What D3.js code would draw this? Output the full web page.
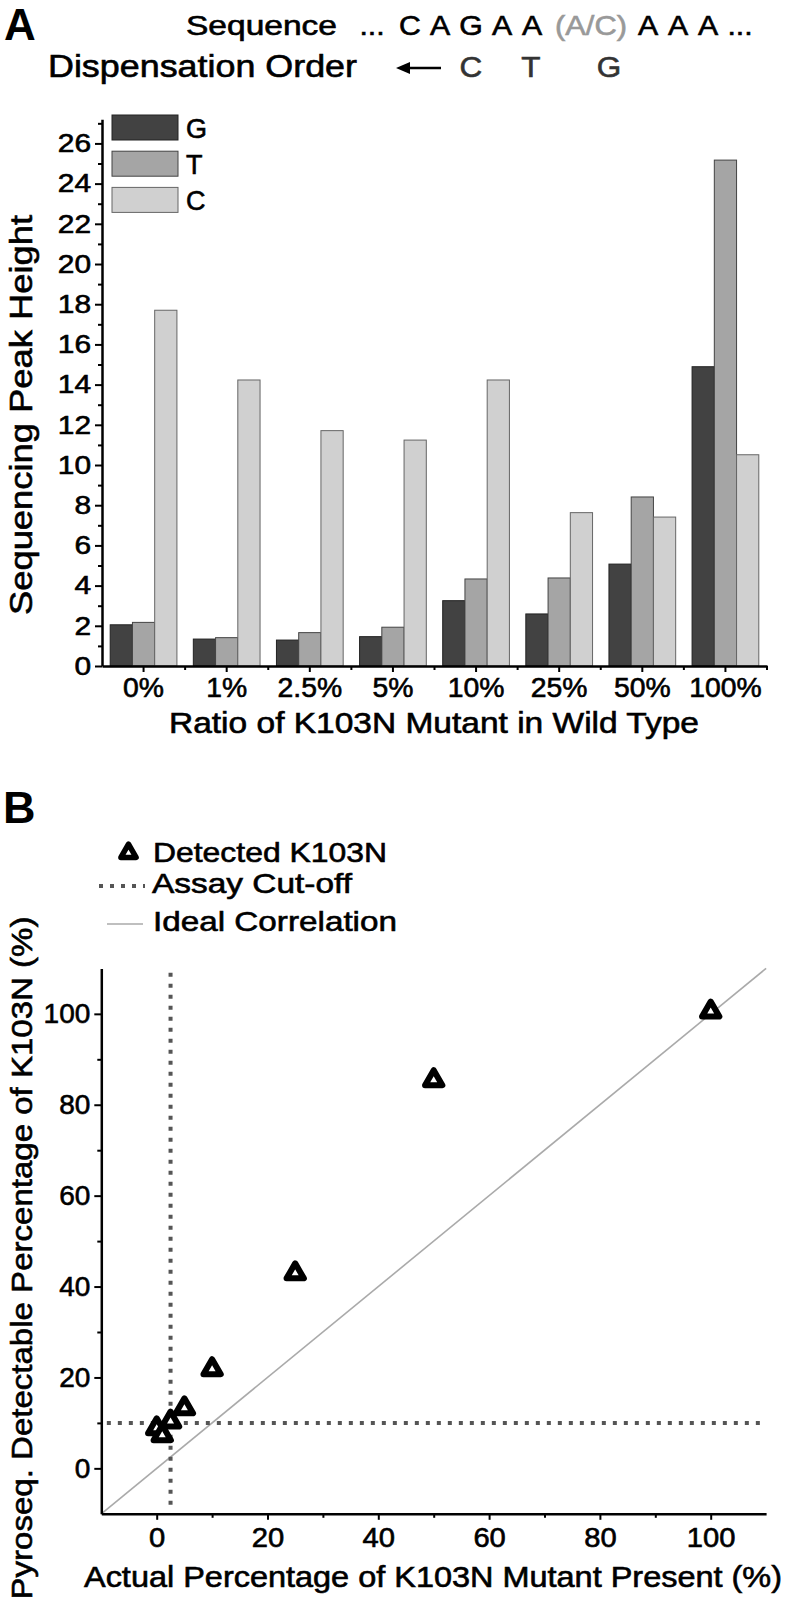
<!DOCTYPE html>
<html><head><meta charset="utf-8">
<script src="https://cdn.jsdelivr.net/npm/d3@7"></script>
<style>
body{margin:0;background:#fff}
svg{display:block}
text{font-family:"Liberation Sans",Arial,sans-serif;stroke-width:0.6px;stroke:currentColor}
</style>
</head><body>
<svg id="c" width="788" height="1609"></svg>
<script>
// ---------- Panel A data ----------
const categories = ["0%","1%","2.5%","5%","10%","25%","50%","100%"];
const seriesNames = ["G","T","C"];
const gValues = [2.05,1.34,1.29,1.46,3.25,2.59,5.07,14.89];
const tValues = [2.17,1.41,1.66,1.93,4.33,4.38,8.41,25.17];
const cValues = [17.70,14.23,11.71,11.24,14.23,7.63,7.41,10.51];
const yTicksA = [0,2,4,6,8,10,12,14,16,18,20,22,24,26];
const yMinorA = [1,3,5,7,9,11,13,15,17,19,21,23,25,27];

// ---------- Header text ----------
const seqLeft  = ["...","C","A","G","A","A"];
const seqMid   = "(A/C)";
const seqRight = ["A","A","A","..."];
const dispLetters = ["C","T","G"];

// ---------- Panel B data ----------
const actualPct   = [0,1,2.5,5,10,25,50,100];
const detectedPct = [8.8,7.3,10.3,13.2,21.8,42.9,85.4,100.5];
const ticksB = [0,20,40,60,80,100];
const minorB = [10,30,50,70,90];
const cutoffX = 2.5;
const cutoffY = 10;
const idealLine = [-10,110];

const svg = d3.select("#c");
function fit(sel,len){ sel.attr("textLength",len).attr("lengthAdjust","spacingAndGlyphs"); return sel; }
function stretch(sel,k){ sel.each(function(){ const L=this.getComputedTextLength(); this.setAttribute("textLength",L*k); this.setAttribute("lengthAdjust","spacingAndGlyphs"); }); }
function col(sel,c){ return sel.attr("fill",c).style("color",c); }

// ---------- Header ----------
svg.append("text").attr("x",4).attr("y",40).attr("font-size",44).attr("font-weight","bold").style("stroke-width","0px").text("A");
fit(svg.append("text").attr("x",186).attr("y",35).attr("font-size",27).text("Sequence"),151);
const seqLX = [372,410,440,471,502,532];
seqLeft.forEach((s,i)=>stretch(svg.append("text").attr("x",seqLX[i]).attr("y",35).attr("font-size",27).attr("text-anchor","middle").text(s),1.12));
fit(col(svg.append("text").attr("x",555).attr("y",35).attr("font-size",27),"#999").text(seqMid),72);
const seqRX = [648,678,708,740];
seqRight.forEach((s,i)=>stretch(svg.append("text").attr("x",seqRX[i]).attr("y",35).attr("font-size",27).attr("text-anchor","middle").text(s),1.12));
fit(svg.append("text").attr("x",48).attr("y",77).attr("font-size",31).text("Dispensation Order"),309);
svg.append("line").attr("x1",441).attr("x2",404).attr("y1",68).attr("y2",68).attr("stroke","#000").attr("stroke-width",2.5);
svg.append("path").attr("d","M396,68 L410,62 L410,74 Z").attr("fill","#000");
const dispX = [471,531,609];
dispLetters.forEach((l,i)=>{
  stretch(col(svg.append("text").attr("x",dispX[i]).attr("y",77).attr("font-size",30).attr("text-anchor","middle"),"#333").text(l),1.05);
});

// ---------- Panel A ----------
const xA = d3.scaleBand().domain(categories).range([102,767]);
const xSub = d3.scaleBand().domain(seriesNames).range([8.2, xA.bandwidth()-8.2]);
const yA = d3.scaleLinear().domain([0,27.2]).range([666,119.3]);
const colorA = d3.scaleOrdinal().domain(seriesNames).range(["#424242","#a5a5a5","#d0d0d0"]);
const strokeA = d3.scaleOrdinal().domain(seriesNames).range(["#222","#444","#666"]);
const seriesValues = {G:gValues,T:tValues,C:cValues};
const barData = [];
categories.forEach((c,i)=>seriesNames.forEach(s=>barData.push({c,s,v:seriesValues[s][i]})));
svg.append("g").selectAll("rect").data(barData).join("rect")
  .attr("x",d=>xA(d.c)+xSub(d.s)).attr("width",xSub.bandwidth())
  .attr("y",d=>yA(d.v)).attr("height",d=>yA(0)-yA(d.v))
  .attr("fill",d=>colorA(d.s)).attr("stroke",d=>strokeA(d.s)).attr("stroke-width",1);

// y axis A
const gyA = svg.append("g").attr("transform","translate(102,0)")
  .call(d3.axisLeft(yA).tickValues(yTicksA).tickSize(7).tickSizeOuter(0).tickPadding(4));
gyA.select(".domain").attr("stroke-width",2.5);
gyA.selectAll(".tick line").attr("stroke-width",2);
gyA.selectAll(".tick text").attr("font-size",26).attr("fill","#000");
stretch(gyA.selectAll(".tick text"),1.15);
const gyAm = svg.append("g").attr("transform","translate(102,0)")
  .call(d3.axisLeft(yA).tickValues(yMinorA).tickSize(4).tickFormat(""));
gyAm.select(".domain").remove();
gyAm.selectAll(".tick line").attr("stroke-width",2);

// x axis A
const gxA = svg.append("g").attr("transform",`translate(0,${yA(0)})`)
  .call(d3.axisBottom(xA).tickSize(6).tickSizeOuter(0).tickPadding(6));
gxA.select(".domain").attr("stroke-width",2.5);
gxA.selectAll(".tick line").attr("stroke-width",2);
gxA.selectAll(".tick text").attr("font-size",27).attr("fill","#000");
stretch(gxA.selectAll(".tick text"),1.05);
svg.append("g").selectAll("line").data(categories).join("line")
  .attr("x1",d=>xA(d)+xA.bandwidth()).attr("x2",d=>xA(d)+xA.bandwidth())
  .attr("y1",yA(0)).attr("y2",yA(0)+4).attr("stroke","#000").attr("stroke-width",2);

// titles A
fit(svg.append("text").attr("transform","translate(32,415) rotate(-90)").attr("text-anchor","middle")
  .attr("font-size",31).text("Sequencing Peak Height"),400);
fit(svg.append("text").attr("x",434).attr("y",733).attr("text-anchor","middle")
  .attr("font-size",29).text("Ratio of K103N Mutant in Wild Type"),530);

// legend A
const legA = svg.append("g").selectAll("g").data(seriesNames).join("g")
  .attr("transform",(d,i)=>`translate(112,${115+i*36.2})`);
legA.append("rect").attr("width",66).attr("height",25).attr("fill",d=>colorA(d)).attr("stroke",d=>strokeA(d)).attr("stroke-width",1);
legA.append("text").attr("x",74).attr("y",23).attr("font-size",27).text(d=>d);

// ---------- Panel B ----------
svg.append("text").attr("x",3).attr("y",823).attr("font-size",45).attr("font-weight","bold").style("stroke-width","0px").text("B");
const xB = d3.scaleLinear().domain([-10,110]).range([101.3,766.1]);
const yB = d3.scaleLinear().domain([-10,110]).range([1513.8,968.4]);

// ideal line
svg.append("line").attr("x1",xB(idealLine[0])).attr("y1",yB(idealLine[0]))
  .attr("x2",xB(idealLine[1])).attr("y2",yB(idealLine[1]))
  .attr("stroke","#aaa").attr("stroke-width",1.6);
// cutoffs
svg.append("line").attr("x1",xB(cutoffX)).attr("x2",xB(cutoffX)).attr("y1",yB(-8)).attr("y2",yB(109.5))
  .attr("stroke","#555").attr("stroke-width",4).attr("stroke-dasharray","4,7");
svg.append("line").attr("x1",xB(-9)).attr("x2",xB(110)).attr("y1",yB(cutoffY)).attr("y2",yB(cutoffY))
  .attr("stroke","#555").attr("stroke-width",4).attr("stroke-dasharray","4,7");

// axes B
const gyB = svg.append("g").attr("transform",`translate(${xB(-10)},0)`)
  .call(d3.axisLeft(yB).tickValues(ticksB).tickSize(7).tickSizeOuter(0).tickPadding(4));
gyB.select(".domain").attr("stroke-width",2.5);
gyB.selectAll(".tick line").attr("stroke-width",2);
gyB.selectAll(".tick text").attr("font-size",28).attr("fill","#000");
const gyBm = svg.append("g").attr("transform",`translate(${xB(-10)},0)`)
  .call(d3.axisLeft(yB).tickValues(minorB).tickSize(4).tickFormat(""));
gyBm.select(".domain").remove(); gyBm.selectAll(".tick line").attr("stroke-width",2);

const gxB = svg.append("g").attr("transform",`translate(0,${yB(-10)})`)
  .call(d3.axisBottom(xB).tickValues(ticksB).tickSize(6).tickSizeOuter(0).tickPadding(8));
gxB.select(".domain").attr("stroke-width",2.5);
gxB.selectAll(".tick line").attr("stroke-width",2);
gxB.selectAll(".tick text").attr("font-size",27).attr("fill","#000");
stretch(gxB.selectAll(".tick text"),1.08);
const gxBm = svg.append("g").attr("transform",`translate(0,${yB(-10)})`)
  .call(d3.axisBottom(xB).tickValues(minorB).tickSize(4).tickFormat(""));
gxBm.select(".domain").remove(); gxBm.selectAll(".tick line").attr("stroke-width",2);

// points
const tri = d3.symbol().type(d3.symbolTriangle).size(130);
svg.append("g").selectAll("path").data(actualPct.map((x,i)=>({x,y:detectedPct[i]}))).join("path")
  .attr("d",tri).attr("transform",d=>`translate(${xB(d.x)},${yB(d.y)})`)
  .attr("fill","#fff").attr("stroke","#000").attr("stroke-width",6).attr("stroke-linejoin","round");

// titles B
fit(svg.append("text").attr("transform","translate(32,1258) rotate(-90)").attr("text-anchor","middle")
  .attr("font-size",30).text("Pyroseq. Detectable Percentage of K103N (%)"),683);
fit(svg.append("text").attr("x",84).attr("y",1587).attr("font-size",29)
  .text("Actual Percentage of K103N Mutant Present (%)"),698);

// legend B
svg.append("path").attr("d",d3.symbol().type(d3.symbolTriangle).size(100)).attr("transform","translate(128.5,853)")
  .attr("fill","#fff").attr("stroke","#000").attr("stroke-width",5.5).attr("stroke-linejoin","round");
fit(svg.append("text").attr("x",153).attr("y",862).attr("font-size",28).text("Detected K103N"),234);
svg.append("line").attr("x1",99).attr("x2",145).attr("y1",886).attr("y2",886)
  .attr("stroke","#555").attr("stroke-width",4).attr("stroke-dasharray","4,7");
fit(svg.append("text").attr("x",152).attr("y",893).attr("font-size",28).text("Assay Cut-off"),200);
svg.append("line").attr("x1",107).attr("x2",143).attr("y1",924).attr("y2",924)
  .attr("stroke","#aaa").attr("stroke-width",1.6);
fit(svg.append("text").attr("x",153).attr("y",931).attr("font-size",28).text("Ideal Correlation"),244);
</script>
</body></html>
